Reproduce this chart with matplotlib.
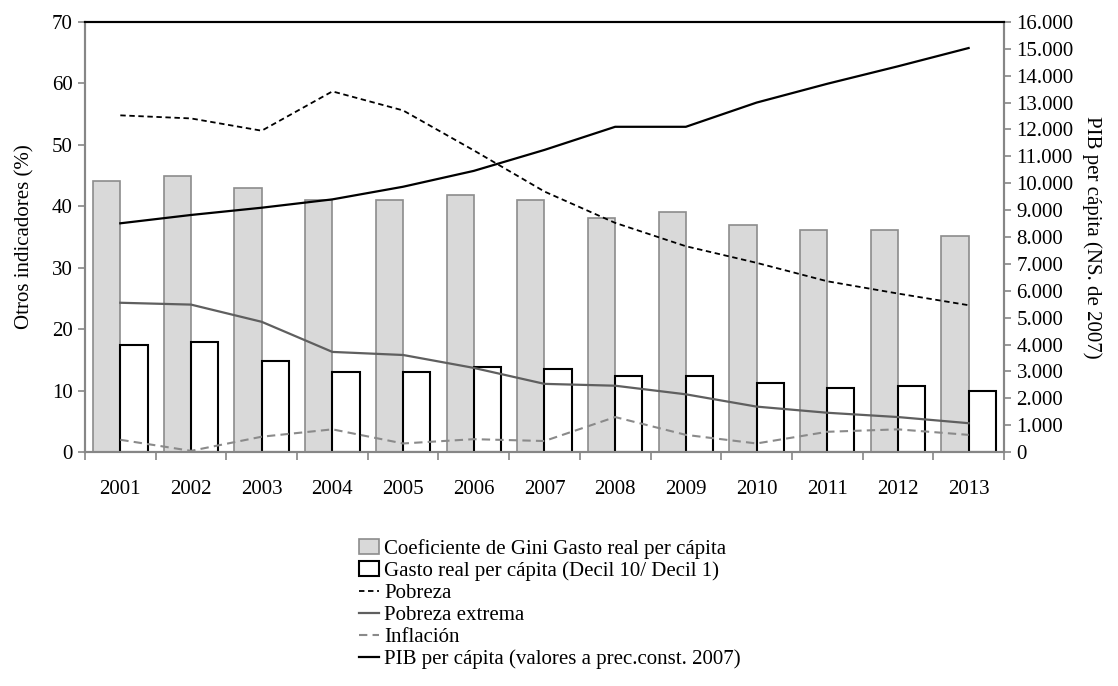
import numpy as np
import matplotlib
matplotlib.use("Agg")
import matplotlib.pyplot as plt
from matplotlib.ticker import FuncFormatter

plt.rcParams['font.family'] = ['Liberation Serif', 'DejaVu Serif']

years = ['2001', '2002', '2003', '2004', '2005', '2006', '2007',
         '2008', '2009', '2010', '2011', '2012', '2013']
gini = [44.1, 44.9, 43.0, 41.1, 41.1, 41.9, 41.1, 38.1, 39.0, 37.0, 36.2, 36.2, 35.1]
decil = [17.4, 17.9, 14.9, 13.0, 13.0, 13.8, 13.5, 12.4, 12.4, 11.3, 10.5, 10.8, 9.9]
pobreza = [54.8, 54.3, 52.3, 58.7, 55.6, 49.1, 42.4, 37.3, 33.5, 30.8, 27.8, 25.8, 23.9]
pobreza_ext = [24.3, 24.0, 21.2, 16.3, 15.8, 13.7, 11.1, 10.8, 9.4, 7.4, 6.4, 5.7, 4.7]
inflacion = [2.0, 0.2, 2.5, 3.7, 1.4, 2.1, 1.8, 5.7, 2.8, 1.4, 3.3, 3.7, 2.8]
pib = [8510, 8820, 9090, 9400, 9870, 10460, 11240, 12100, 12100, 13000, 13700, 14350, 15030]

fs = 15
axis_grey = '#868686'

fig = plt.figure(figsize=(11.18, 6.86), dpi=100)
ax = fig.add_axes([0.076, 0.341, 0.822, 0.627])
ax2 = ax.twinx()

x = np.arange(len(years))
w = 0.385
b1 = ax.bar(x - w / 2, gini, w, color='#d9d9d9', edgecolor='#8c8c8c', linewidth=1.2,
            label='Coeficiente de Gini Gasto real per cápita', zorder=2)
b2 = ax.bar(x + w / 2, decil, w, color='white', edgecolor='black', linewidth=1.5,
            label='Gasto real per cápita (Decil 10/ Decil 1)', zorder=2)
l1, = ax.plot(x, pobreza, color='black', linestyle=(0, (3, 2)), linewidth=1.3,
              label='Pobreza', zorder=3)
l2, = ax.plot(x, pobreza_ext, color='#5f5f5f', linewidth=1.6,
              label='Pobreza extrema', zorder=3)
l3, = ax.plot(x, inflacion, color='#8a8a8a', linestyle=(0, (4, 2.5)), linewidth=1.5,
              label='Inflación', zorder=3)
l4, = ax2.plot(x, pib, color='black', linewidth=1.6,
               label='PIB per cápita (valores a prec.const. 2007)')

ax.set_xlim(-0.5, len(years) - 0.5)
ax.set_ylim(0, 70)
ax.set_yticks(range(0, 71, 10))
ax2.set_ylim(0, 16000)
ax2.set_yticks(range(0, 16001, 1000))
ax2.yaxis.set_major_formatter(FuncFormatter(lambda v, p: f'{int(v):,}'.replace(',', '.')))

ax.set_xticks(x)
ax.set_xticklabels(years)
ax.set_xticks(np.arange(-0.5, len(years), 1), minor=True)
ax.tick_params(axis='x', which='major', length=0, pad=20, labelsize=fs)
ax.tick_params(axis='x', which='minor', length=6, color=axis_grey, width=1.2)
ax.tick_params(axis='y', length=5, color=axis_grey, width=1.2, labelsize=fs, pad=4)
ax2.tick_params(axis='y', length=5, color=axis_grey, width=1.2, labelsize=fs, pad=4)

for a in (ax, ax2):
    for side in ('left', 'right', 'bottom'):
        a.spines[side].set_color(axis_grey)
        a.spines[side].set_linewidth(1.5)
    a.spines['top'].set_color('black')
    a.spines['top'].set_linewidth(1.5)

ax.set_ylabel('Otros indicadores (%)', fontsize=fs, labelpad=12)
ax2.set_ylabel('PIB per cápita (NS. de 2007)', fontsize=fs, rotation=270, labelpad=20)

fig.legend(handles=[b1, b2, l1, l2, l3, l4], loc='upper left',
           bbox_to_anchor=(0.312, 0.23), frameon=False, fontsize=fs,
           handlelength=0.95, handleheight=0.7, handletextpad=0.25,
           labelspacing=0.12, borderpad=0)

plt.savefig('out.png', dpi=100)
